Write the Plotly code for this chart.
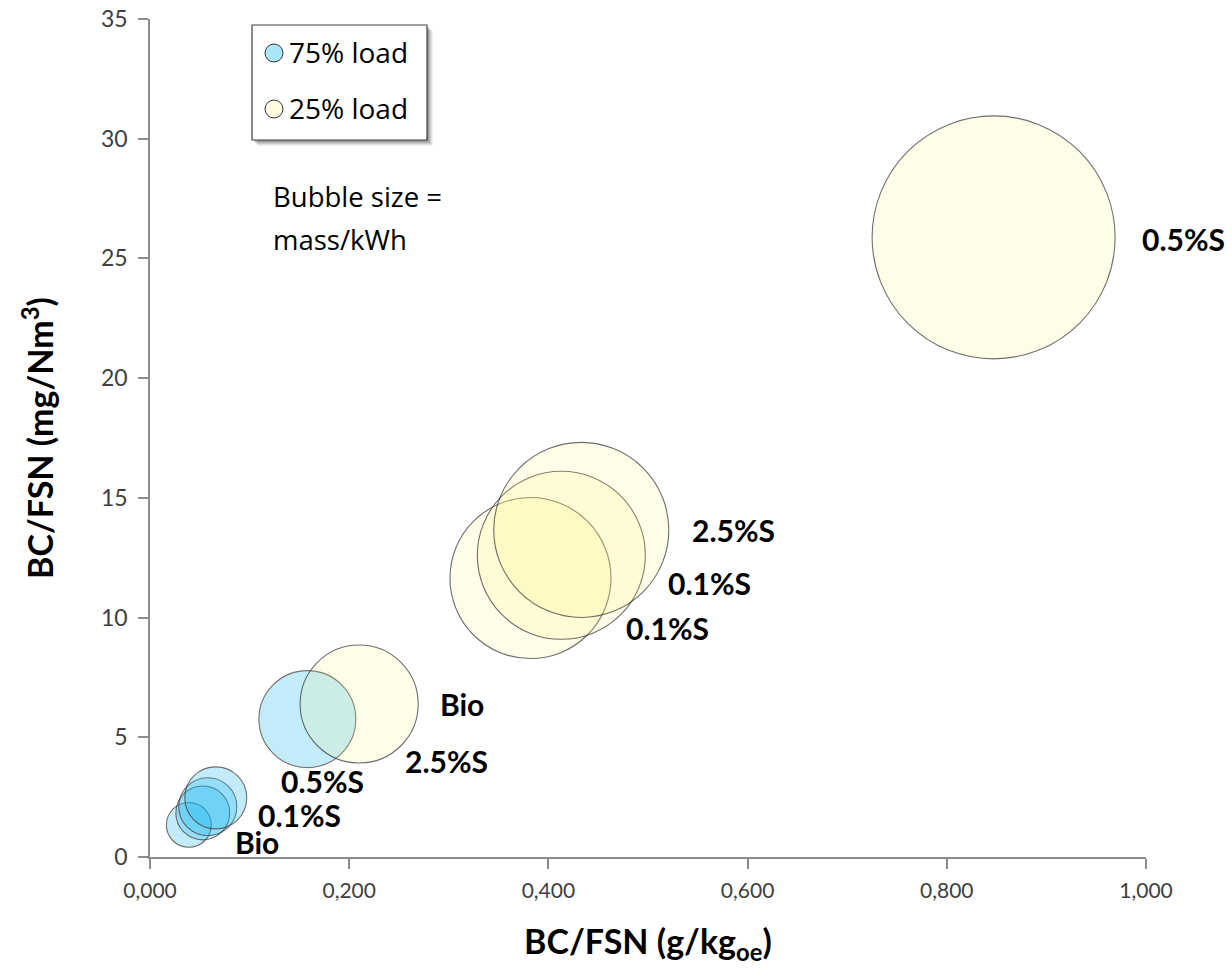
import plotly.graph_objects as go

# BC emission vs. FSN, two engine loads; bubble area = particle mass per kWh
blue_x = [0.039, 0.053, 0.058, 0.066, 0.158]
blue_y = [1.34, 1.84, 2.10, 2.47, 5.76]
blue_mass = [0.034, 0.049, 0.057, 0.065, 0.159]
blue_labels = ["Bio", "0.1%S", "", "2.5%S", "0.5%S"]

yellow_x = [0.210, 0.382, 0.413, 0.433, 0.847]
yellow_y = [6.39, 11.65, 12.60, 13.66, 25.88]
yellow_mass = [0.236, 0.439, 0.478, 0.519, 1.000]
yellow_labels = ["Bio", "0.1%S", "0.1%S", "2.5%S", "0.5%S"]

x_ticks = [0.0, 0.2, 0.4, 0.6, 0.8, 1.0]
y_ticks = [0, 5, 10, 15, 20, 25, 30, 35]

# label offsets (pixels) from each bubble centre
blue_shift = [(44, -17), (53, -2), (0, 0), (187, 37), (-28, -62)]
yellow_shift = [(79, 0), (94, -50), (105, -28), (109, 0), (146, -2)]

W, H = 1232, 971
L, R, T, B = 150, 86, 19, 114
PW, PH = W - L - R, H - T - B

BIG_D = 243  # pixel diameter of the largest bubble
sizeref = 2.0 * max(blue_mass + yellow_mass) / BIG_D ** 2

BLUE_FILL = "rgba(0,176,240,0.33)"
YELLOW_FILL = "rgba(255,245,110,0.22)"
EDGE = "#333333"
AXIS = "#8c8c8c"

fig = go.Figure()
fig.add_trace(go.Scatter(
    x=blue_x, y=blue_y, mode="markers", name="75% load", cliponaxis=False,
    marker=dict(size=blue_mass, sizemode="area", sizeref=sizeref,
                color=BLUE_FILL, line=dict(color=EDGE, width=1.1)),
    showlegend=False,
))
fig.add_trace(go.Scatter(
    x=yellow_x, y=yellow_y, mode="markers", name="25% load", cliponaxis=False,
    marker=dict(size=yellow_mass, sizemode="area", sizeref=sizeref,
                color=YELLOW_FILL, line=dict(color=EDGE, width=1.1)),
    showlegend=False,
))

label_font = dict(family="Lato, 'Open Sans', sans-serif", size=30, color="#000000")
for xs, ys, labels, shifts in ((blue_x, blue_y, blue_labels, blue_shift),
                               (yellow_x, yellow_y, yellow_labels, yellow_shift)):
    for xv, yv, txt, (dx, dy) in zip(xs, ys, labels, shifts):
        if not txt:
            continue
        fig.add_annotation(x=xv, y=yv, text=f"<b>{txt}</b>", showarrow=False,
                           xanchor="left", yanchor="middle", xshift=dx, yshift=dy,
                           font=label_font)


def px_x(p):
    return (p - L) / PW


def px_y(p):
    return (H - B - p) / PH


shapes = []
# legend box with a soft drop shadow
for k, op in ((6, 0.05), (5, 0.07), (4, 0.09), (3, 0.11), (2, 0.13)):
    shapes.append(dict(type="rect", xref="paper", yref="paper",
                       x0=px_x(252 + k), x1=px_x(427 + k), y0=px_y(140 + k), y1=px_y(25 + k),
                       line=dict(width=0), fillcolor=f"rgba(0,0,0,{op})", layer="above"))
shapes.append(dict(type="rect", xref="paper", yref="paper",
                   x0=px_x(252), x1=px_x(427), y0=px_y(140), y1=px_y(25),
                   line=dict(color="#404040", width=1.2), fillcolor="white", layer="above"))
for cy, fill in ((53, "rgb(170,229,250)"), (109, "rgb(255,252,225)")):
    shapes.append(dict(type="circle", xref="paper", yref="paper",
                       xsizemode="pixel", ysizemode="pixel",
                       xanchor=px_x(274), yanchor=px_y(cy),
                       x0=-9, x1=9, y0=-9, y1=9,
                       line=dict(color=EDGE, width=1), fillcolor=fill, layer="above"))

legend_font = dict(family="'Open Sans', sans-serif", size=28, color="#000000")
for cy, txt in ((52, "75% load"), (108, "25% load")):
    fig.add_annotation(xref="paper", yref="paper", x=px_x(287), y=px_y(cy),
                       text=txt, showarrow=False, xanchor="left", yanchor="middle",
                       font=legend_font)

note_font = dict(family="'Open Sans', sans-serif", size=27.5, color="#000000")
for cy, txt in ((197, "Bubble size ="), (240, "mass/kWh")):
    fig.add_annotation(xref="paper", yref="paper", x=px_x(271), y=px_y(cy),
                       text=txt, showarrow=False, xanchor="left", yanchor="middle",
                       font=note_font)

# axis titles
title_font = dict(family="Lato, sans-serif", size=34, color="#000000")
fig.add_annotation(xref="paper", yref="paper", x=0.5, y=px_y(943),
                   text="<b>BC/FSN (g/kg<sub>oe</sub>)</b>", showarrow=False,
                   xanchor="center", yanchor="middle", font=title_font)
fig.add_annotation(xref="paper", yref="paper", x=px_x(38), y=0.5,
                   text="<b>BC/FSN (mg/Nm<sup>3</sup>)</b>", showarrow=False,
                   textangle=-90, xanchor="center", yanchor="middle", font=title_font)

fig.update_layout(
    width=W, height=H,
    margin=dict(l=L, r=R, t=T, b=B),
    paper_bgcolor="white", plot_bgcolor="white",
    separators=",.",
    shapes=shapes,
    showlegend=False,
)
fig.update_xaxes(
    range=[0, 1], tickvals=x_ticks, tickformat=".3f", automargin=False,
    showgrid=False, zeroline=False,
    showline=True, linecolor=AXIS, linewidth=1.5,
    ticks="outside", ticklen=10, tickcolor=AXIS, tickwidth=1.5,
    ticklabelstandoff=4,
    tickfont=dict(family="Lato, sans-serif", size=21, color="#404040"),
)
fig.update_yaxes(
    range=[0, 35], tickvals=y_ticks, automargin=False,
    showgrid=False, zeroline=False,
    showline=True, linecolor=AXIS, linewidth=1.5,
    ticks="outside", ticklen=10, tickcolor=AXIS, tickwidth=1.5,
    ticklabelstandoff=6,
    tickfont=dict(family="Lato, sans-serif", size=23, color="#404040"),
)

fig.write_html("out.html")
